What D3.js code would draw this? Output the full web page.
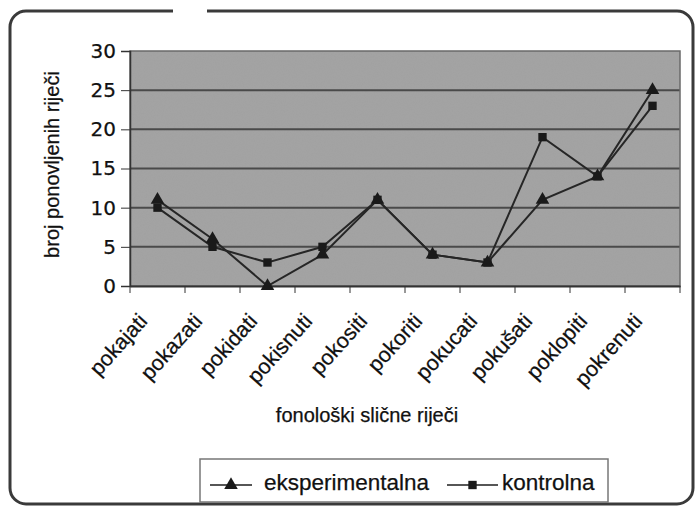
<!DOCTYPE html>
<html>
<head>
<meta charset="utf-8">
<script src="https://d3js.org/d3.v7.min.js"></script>
<style>
    body { margin: 0; background: #fff; }
    text { font-family: "Liberation Sans", Arial, sans-serif; fill: #111; stroke: #111; stroke-width: 0.25px; }
</style>
</head>
<body>
<svg id="chart" width="697" height="510"></svg>
<script>
    var categories = ["pokajati", "pokazati", "pokidati", "pokisnuti", "pokositi",
        "pokoriti", "pokucati", "pokušati", "poklopiti", "pokrenuti"];
    var eksperimentalna = [11, 6, 0, 4, 11, 4, 3, 11, 14, 25];
    var kontrolna = [10, 5, 3, 5, 11, 4, 3, 19, 14, 23];
    var yTicks = [0, 5, 10, 15, 20, 25, 30];

    var svg = d3.select("#chart"),
        plotL = 130, plotR = 680, plotT = 51, plotB = 286;

    var defs = svg.append("defs");
    var f = defs.append("filter").attr("id", "grain").attr("x", 0).attr("y", 0).attr("width", 1).attr("height", 1);
    f.append("feTurbulence").attr("type", "fractalNoise").attr("baseFrequency", 0.9).attr("numOctaves", 2).attr("seed", 3).attr("result", "n");
    f.append("feColorMatrix").attr("in", "n").attr("type", "matrix")
        .attr("values", "0 0 0 0 0.35  0 0 0 0 0.35  0 0 0 0 0.35  0 0 0 -0.9 0.5").attr("result", "g");
    f.append("feComposite").attr("in", "g").attr("in2", "SourceGraphic").attr("operator", "in").attr("result", "g2");
    f.append("feMerge").call(function (m) {
        m.append("feMergeNode").attr("in", "SourceGraphic");
        m.append("feMergeNode").attr("in", "g2");
    });

    // outer frame
    svg.append("rect")
        .attr("x", 10).attr("y", 11).attr("width", 683).attr("height", 493)
        .attr("rx", 16).attr("ry", 16)
        .attr("fill", "#fff").attr("stroke", "#3a3a3a").attr("stroke-width", 3);
    svg.append("rect")
        .attr("x", 173).attr("y", 8).attr("width", 34).attr("height", 5)
        .attr("fill", "#fff");

    var x = d3.scaleBand().domain(categories).range([plotL, plotR]);
    var y = d3.scaleLinear().domain([0, 30]).range([plotB, plotT]);

    svg.append("rect")
        .attr("x", plotL).attr("y", plotT).attr("width", plotR - plotL).attr("height", plotB - plotT)
        .attr("fill", "#a3a3a3").attr("filter", "url(#grain)");

    // grid
    svg.append("g").selectAll("line")
        .data(yTicks.slice(1, -1))
        .enter().append("line")
        .attr("x1", plotL).attr("x2", plotR)
        .attr("y1", function (d) { return y(d); }).attr("y2", function (d) { return y(d); })
        .attr("stroke", "#4a4a4a").attr("stroke-width", 2);

    svg.append("rect")
        .attr("x", plotL).attr("y", plotT).attr("width", plotR - plotL).attr("height", plotB - plotT)
        .attr("fill", "none").attr("stroke", "#6a6a6a").attr("stroke-width", 1.5);

    // y axis
    var yAxis = svg.append("g")
        .attr("transform", "translate(" + plotL + ",0)")
        .call(d3.axisLeft(y).tickValues(yTicks).tickSize(9).tickPadding(5));
    yAxis.select(".domain").attr("stroke", "#333").attr("stroke-width", 1.5);
    yAxis.selectAll(".tick line").attr("stroke", "#333");
    yAxis.selectAll("text")
        .style("font-family", "'DejaVu Sans', sans-serif")
        .style("font-size", "20px").attr("fill", "#111");

    // x axis
    var xAxis = svg.append("g")
        .attr("transform", "translate(0," + plotB + ")")
        .call(d3.axisBottom(x).tickSize(0).tickFormat(""));
    xAxis.select(".domain").attr("stroke", "#333").attr("stroke-width", 2);
    xAxis.selectAll(".sep")
        .data(d3.range(categories.length + 1))
        .enter().append("line")
        .attr("x1", function (i) { return plotL + i * x.step(); })
        .attr("x2", function (i) { return plotL + i * x.step(); })
        .attr("y1", 0).attr("y2", 7)
        .attr("stroke", "#333");

    svg.append("g").selectAll("text")
        .data(categories)
        .enter().append("text")
        .attr("transform", function (d) {
            return "translate(" + (x(d) + x.bandwidth() / 2 - 9) + "," + (plotB + 36) + ") rotate(-48)";
        })
        .attr("text-anchor", "end")
        .style("font-size", "21.5px")
        .text(function (d) { return d; });

    // axis titles
    svg.append("text")
        .attr("transform", "translate(59," + ((plotT + plotB) / 2 - 4) + ") rotate(-90)")
        .attr("text-anchor", "middle")
        .style("font-size", "20px")
        .text("broj ponovljenih riječi");

    svg.append("text")
        .attr("x", 367).attr("y", 422)
        .attr("text-anchor", "middle")
        .style("font-size", "20px")
        .text("fonološki slične riječi");

    // series
    var line = d3.line()
        .x(function (d, i) { return x(categories[i]) + x.bandwidth() / 2; })
        .y(function (d) { return y(d); });

    var tri = d3.symbol().type(d3.symbolTriangle).size(80);
    var sq = d3.symbol().type(d3.symbolSquare).size(70);

    [[kontrolna, sq], [eksperimentalna, tri]].forEach(function (s) {
        svg.append("path")
            .datum(s[0])
            .attr("d", line)
            .attr("fill", "none").attr("stroke", "#262626").attr("stroke-width", 2);
        svg.append("g").selectAll("path")
            .data(s[0])
            .enter().append("path")
            .attr("d", s[1])
            .attr("transform", function (d, i) {
                return "translate(" + (x(categories[i]) + x.bandwidth() / 2) + "," + y(d) + ")";
            })
            .attr("fill", "#1a1a1a");
    });

    // legend
    var lg = svg.append("g");
    lg.append("rect")
        .attr("x", 200).attr("y", 459).attr("width", 408).attr("height", 43)
        .attr("fill", "#fff").attr("stroke", "#777").attr("stroke-width", 1.5);
    var items = [
        {name: "eksperimentalna", sym: tri, x: 210, w: 42, tx: 264},
        {name: "kontrolna", sym: sq, x: 447, w: 51, tx: 502}
    ];
    items.forEach(function (it) {
        lg.append("line")
            .attr("x1", it.x).attr("x2", it.x + it.w)
            .attr("y1", 485).attr("y2", 485)
            .attr("stroke", "#1e1e1e").attr("stroke-width", 1.5);
        lg.append("path")
            .attr("d", it.sym)
            .attr("transform", "translate(" + (it.x + it.w / 2) + ",485)")
            .attr("fill", "#1a1a1a");
        lg.append("text")
            .attr("x", it.tx).attr("y", 490)
            .style("font-size", "22.5px")
            .text(it.name);
    });
</script>
</body>
</html>
